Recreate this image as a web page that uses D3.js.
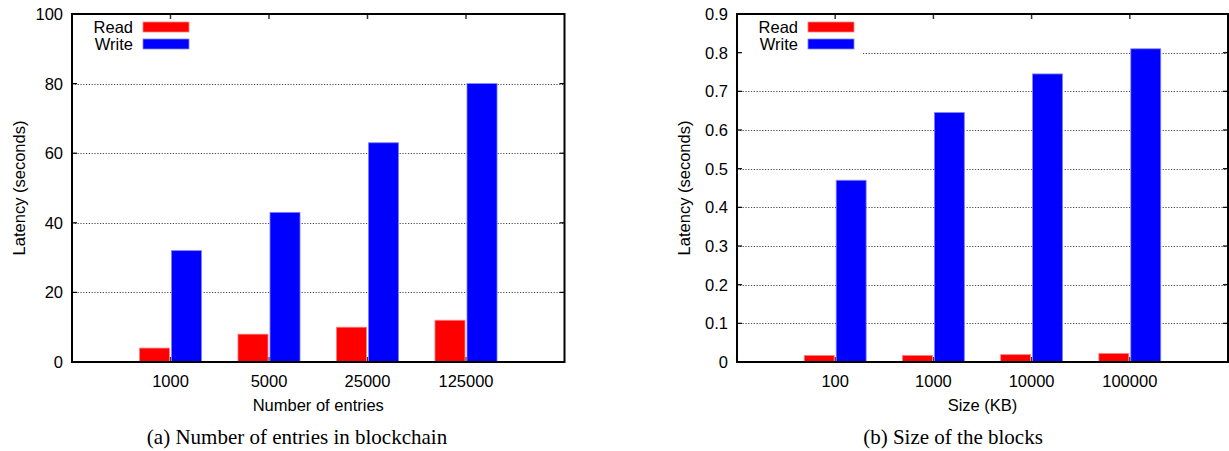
<!DOCTYPE html>
<html><head><meta charset="utf-8">
<script src="https://cdn.jsdelivr.net/npm/d3@7"></script>
<style>
html,body{margin:0;padding:0;background:#fff;}
svg{display:block;}
</style></head>
<body>
<svg id="c" width="1229" height="451"></svg>
<script>
// ---- data ----
const categoriesA = ["1000", "5000", "25000", "125000"];
const readA = [4, 8, 10, 12];
const writeA = [32, 43, 63, 80];
const yTicksA = [0, 20, 40, 60, 80, 100];
const yLabelsA = ["0", "20", "40", "60", "80", "100"];

const categoriesB = ["100", "1000", "10000", "100000"];
const readB = [0.017, 0.017, 0.019, 0.022];
const writeB = [0.47, 0.645, 0.745, 0.81];
const yTicksB = [0, 0.1, 0.2, 0.3, 0.4, 0.5, 0.6, 0.7, 0.8, 0.9];
const yLabelsB = ["0", "0.1", "0.2", "0.3", "0.4", "0.5", "0.6", "0.7", "0.8", "0.9"];

const seriesNames = ["Read", "Write"];
const seriesColors = ["#ff0000", "#0000ff"];
const seriesEdge = ["#ff8080", "#8080ff"];

const svg = d3.select("#c");
const SANS = "'Liberation Sans', Arial, sans-serif";
const SERIF = "'Liberation Serif', 'Times New Roman', serif";
const FS = 16.5;

function panel(cfg) {
  const g = svg.append("g");
  const x = d3.scaleLinear().domain([0, cfg.cats.length + 1]).range([cfg.left, cfg.right]);
  const y = d3.scaleLinear().domain([0, cfg.yMax]).range([cfg.bottom, cfg.top]);
  const bw = 0.315;

  // gridlines
  g.selectAll("line.grid").data(cfg.yTicks.slice(1, -1)).enter().append("line")
    .attr("x1", cfg.left).attr("x2", cfg.right)
    .attr("y1", d => Math.round(y(d)) + 0.5).attr("y2", d => Math.round(y(d)) + 0.5)
    .attr("stroke", "#333").attr("stroke-width", 0.9).attr("stroke-dasharray", "1.2,1.6");

  // bottom x ticks (behind bars)
  g.selectAll("line.bt").data(cfg.cats).enter().append("line")
    .attr("x1", (d, i) => x(i + 1)).attr("x2", (d, i) => x(i + 1))
    .attr("y1", cfg.bottom).attr("y2", cfg.bottom - 5)
    .attr("stroke", "#333").attr("stroke-width", 1.5);

  // bars
  const series = [cfg.read, cfg.write];
  series.forEach((vals, s) => {
    g.selectAll("rect.s" + s).data(vals).enter().append("rect")
      .attr("x", (d, i) => s === 0 ? x(i + 1 - bw) : x(i + 1) + 1)
      .attr("width", x(bw) - x(0) - 1)
      .attr("y", d => y(d))
      .attr("height", d => y(0) - y(d))
      .attr("fill", seriesColors[s])
      .attr("stroke", seriesEdge[s]).attr("stroke-width", 0.8);
  });

  // legend background
  g.append("rect").attr("x", cfg.left + 2).attr("y", cfg.top + 2)
    .attr("width", 124).attr("height", 42).attr("fill", "#fff");

  seriesNames.forEach((n, s) => {
    const ly = cfg.top + 13 + s * 17;
    g.append("text").attr("x", cfg.left + 61).attr("y", ly + 6)
      .attr("text-anchor", "end").attr("font-family", SANS).attr("font-size", FS)
      .attr("fill", "#000").text(n);
    g.append("rect").attr("x", cfg.left + 71).attr("y", ly - 5)
      .attr("width", 46).attr("height", 10)
      .attr("fill", seriesColors[s]).attr("stroke", seriesEdge[s]).attr("stroke-width", 0.8);
  });

  // y ticks (left & right, inward)
  g.selectAll("line.yl").data(cfg.yTicks).enter().append("line")
    .attr("x1", cfg.left).attr("x2", cfg.left + 5)
    .attr("y1", d => y(d)).attr("y2", d => y(d))
    .attr("stroke", "#000").attr("stroke-width", 1.2);
  g.selectAll("line.yr").data(cfg.yTicks).enter().append("line")
    .attr("x1", cfg.right).attr("x2", cfg.right - 5)
    .attr("y1", d => y(d)).attr("y2", d => y(d))
    .attr("stroke", "#000").attr("stroke-width", 1.2);
  // top x ticks
  g.selectAll("line.tt").data(cfg.cats).enter().append("line")
    .attr("x1", (d, i) => x(i + 1)).attr("x2", (d, i) => x(i + 1))
    .attr("y1", cfg.top).attr("y2", cfg.top + 5)
    .attr("stroke", "#333").attr("stroke-width", 1.5);

  // frame
  g.append("rect").attr("x", cfg.left).attr("y", cfg.top)
    .attr("width", cfg.right - cfg.left).attr("height", cfg.bottom - cfg.top)
    .attr("fill", "none").attr("stroke", "#000").attr("stroke-width", 2);

  // y tick labels
  g.selectAll("text.yl").data(cfg.yTicks).enter().append("text")
    .attr("x", cfg.left - 9).attr("y", d => y(d) + 6)
    .attr("text-anchor", "end").attr("font-family", SANS).attr("font-size", FS)
    .text((d, i) => cfg.yLabels[i]);
  // x tick labels
  g.selectAll("text.xl").data(cfg.cats).enter().append("text")
    .attr("x", (d, i) => x(i + 1)).attr("y", cfg.bottom + 25)
    .attr("text-anchor", "middle").attr("font-family", SANS).attr("font-size", FS)
    .text(d => d);
  // axis titles
  g.append("text").attr("x", (cfg.left + cfg.right) / 2).attr("y", cfg.bottom + 49)
    .attr("text-anchor", "middle").attr("font-family", SANS).attr("font-size", FS)
    .text(cfg.xTitle);
  g.append("text")
    .attr("transform", `translate(${cfg.yTitleX},${(cfg.top + cfg.bottom) / 2}) rotate(-90)`)
    .attr("text-anchor", "middle").attr("font-family", SANS).attr("font-size", 16.5)
    .text("Latency (seconds)");
  // caption
  g.append("text").attr("x", cfg.capX).attr("y", 444)
    .attr("text-anchor", "middle").attr("font-family", SERIF).attr("font-size", 21)
    .text(cfg.caption);
}

panel({
  cats: categoriesA, read: readA, write: writeA, yTicks: yTicksA, yLabels: yLabelsA, yMax: 100,
  left: 72, right: 564.5, top: 14, bottom: 362,
  xTitle: "Number of entries", yTitleX: 25, capX: 297,
  caption: "(a) Number of entries in blockchain"
});
panel({
  cats: categoriesB, read: readB, write: writeB, yTicks: yTicksB, yLabels: yLabelsB, yMax: 0.9,
  left: 737, right: 1228, top: 14, bottom: 362,
  xTitle: "Size (KB)", yTitleX: 690, capX: 953,
  caption: "(b) Size of the blocks"
});
</script>
</body></html>
